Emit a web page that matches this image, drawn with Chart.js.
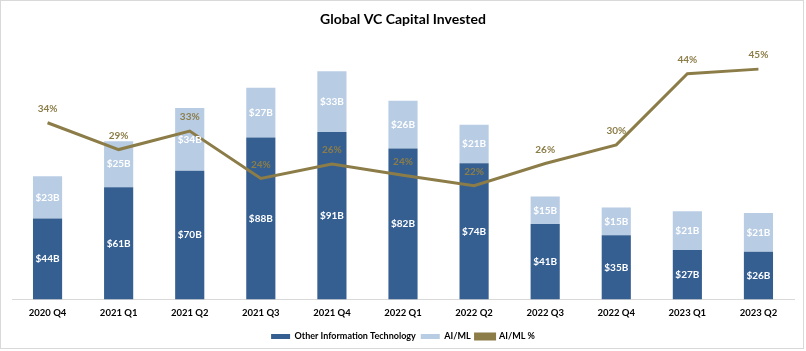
<!DOCTYPE html>
<html>
<head>
<meta charset="utf-8">
<script src="https://cdn.jsdelivr.net/npm/chart.js@4/dist/chart.umd.min.js"></script>
<style>
html,body{margin:0;padding:0;background:#fff;}
#wrap{width:806px;height:351px;position:relative;}
</style>
</head>
<body>
<div id="wrap"><canvas id="c" width="806" height="351"></canvas></div>
<script>
const categories = ['2020 Q4','2021 Q1','2021 Q2','2021 Q3','2021 Q4','2022 Q1','2022 Q2','2022 Q3','2022 Q4','2023 Q1','2023 Q2'];
const otherIT = [44, 61, 70, 88, 91, 82, 74, 41, 35, 27, 26];
const aiml = [23, 25, 34, 27, 33, 26, 21, 15, 15, 21, 21];
const aimlPct = [34.3, 29.1, 32.7, 23.5, 26.3, 24.1, 22.1, 26.4, 30.0, 43.8, 44.7];

const FONT = 'Lato, "Open Sans", sans-serif';
const DARK = '#355F91';
const LIGHT = '#B8CCE4';
const GOLD = '#8C7D48';

const framePlugin = {
  id: 'frame',
  beforeDraw(chart) {
    const ctx = chart.ctx;
    ctx.save();
    ctx.fillStyle = '#fff';
    ctx.fillRect(0, 0, chart.width, chart.height);
    ctx.strokeStyle = '#D9D9D9';
    ctx.lineWidth = 1;
    ctx.strokeRect(0.5, 0.5, chart.width - 3, chart.height - 3);
    ctx.restore();
  }
};

const labelPlugin = {
  id: 'vlabels',
  afterDatasetsDraw(chart) {
    const ctx = chart.ctx;
    ctx.save();
    ctx.textAlign = 'center';
    ctx.textBaseline = 'middle';
    chart.data.datasets.forEach((ds, i) => {
      const meta = chart.getDatasetMeta(i);
      meta.data.forEach((el, j) => {
        const v = ds.data[j];
        if (meta.type === 'bar') {
          ctx.font = 'bold 10px ' + FONT;
          ctx.fillStyle = '#fff';
          ctx.fillText('$' + v + 'B', el.x, (el.y + el.base) / 2);
        } else {
          ctx.font = 'bold 10px ' + FONT;
          ctx.fillStyle = GOLD;
          ctx.fillText(Math.round(v) + '%', el.x, el.y - 14);
        }
      });
    });
    ctx.restore();
  }
};

new Chart(document.getElementById('c'), {
  type: 'bar',
  data: {
    labels: categories,
    datasets: [
      { label: 'Other Information Technology', data: otherIT, backgroundColor: DARK, stack: 's', yAxisID: 'y', order: 1,
        categoryPercentage: 0.41, barPercentage: 1 },
      { label: 'AI/ML', data: aiml, backgroundColor: LIGHT, stack: 's', yAxisID: 'y', order: 1,
        categoryPercentage: 0.41, barPercentage: 1 },
      { type: 'line', label: 'AI/ML %', data: aimlPct, borderColor: GOLD, backgroundColor: GOLD, borderWidth: 3,
        pointRadius: 0, tension: 0, yAxisID: 'y2', order: 0 }
    ]
  },
  options: {
    responsive: false,
    animation: false,
    layout: { padding: { left: 12, right: 12, top: 0, bottom: 0 } },
    plugins: {
      title: { display: true, text: 'Global VC Capital Invested', color: '#000',
        font: { family: FONT, size: 14, weight: 'bold' }, padding: { top: 11, bottom: 14 } },
      legend: { position: 'bottom',
        labels: { color: '#000', font: { family: FONT, size: 9, weight: 'bold' }, boxWidth: 19, boxHeight: 5,
          padding: 5,
          sort: (a, b) => a.datasetIndex - b.datasetIndex,
          generateLabels(chart) {
            const items = Chart.defaults.plugins.legend.labels.generateLabels(chart);
            items.forEach(it => {
              if (it.datasetIndex === 2) { it.pointStyle = 'line'; it.lineWidth = 3; it.strokeStyle = GOLD; }
              else { it.pointStyle = 'rect'; it.lineWidth = 0; }
            });
            return items;
          }
        } },
      tooltip: { enabled: false }
    },
    scales: {
      x: { stacked: true, grid: { display: false, drawTicks: false }, border: { display: true, color: '#D9D9D9', width: 1 },
        ticks: { color: '#000', font: { family: FONT, size: 9.5, weight: 'bold' }, padding: 8, maxRotation: 0 } },
      y: { display: false, stacked: true, min: 0, max: 140 },
      y2: { display: false, min: 0, max: 50, position: 'right' }
    }
  },
  plugins: [framePlugin, labelPlugin]
});
</script>
</body>
</html>
